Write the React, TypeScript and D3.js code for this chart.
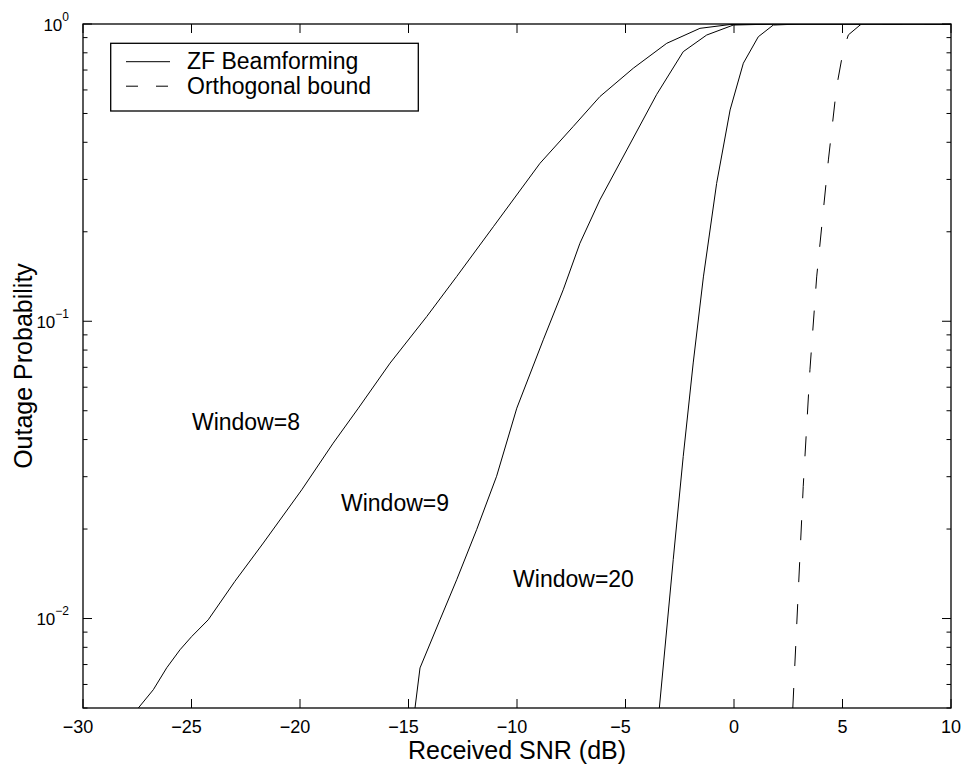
import React from "react";
import * as d3 from "d3";

// ---- data ----
const xTicks = [-30, -25, -20, -15, -10, -5, 0, 5, 10];
const yDecades = [0, -1, -2];

const w8X = [-27.45, -26.76, -26.14, -25.53, -24.99, -24.23, -23.0, -21.69, -19.92, -18.47, -17.31, -15.85, -14.16, -12.78, -11.09, -8.94, -7.41, -6.18, -4.64, -3.1, -1.57, -0.18, 2, 10];
const w8P = [0.005, 0.00576, 0.00683, 0.00785, 0.0087, 0.0099, 0.01334, 0.01795, 0.0271, 0.0389, 0.051, 0.0723, 0.1037, 0.1414, 0.208, 0.34, 0.452, 0.57, 0.71, 0.861, 0.967, 0.996, 1, 1];

const w9X = [-14.7, -14.47, -13.55, -12.78, -11.86, -10.94, -10.01, -8.79, -7.87, -7.1, -6.18, -4.94, -3.56, -2.34, -1.26, -0.03, 2, 10];
const w9P = [0.005, 0.00682, 0.0099, 0.0135, 0.0199, 0.0301, 0.051, 0.0866, 0.1276, 0.183, 0.256, 0.377, 0.58, 0.807, 0.918, 0.992, 1, 1];

const w20X = [-3.44, -2.8, -2.34, -1.88, -1.41, -0.8, -0.18, 0.43, 1.12, 1.81, 3.04, 10];
const w20P = [0.005, 0.0158, 0.0351, 0.0724, 0.141, 0.291, 0.514, 0.738, 0.906, 0.992, 1, 1];

const orthoX = [2.71, 3.19, 3.5, 3.81, 4.35, 4.73, 5.04, 5.27, 5.81, 6.5, 10];
const orthoP = [0.005, 0.0278, 0.0687, 0.141, 0.349, 0.615, 0.818, 0.919, 0.992, 1, 1];

const annotations = [
  { text: "Window=8", x: -24.98, y: 0.046 },
  { text: "Window=9", x: -18.11, y: 0.0245 },
  { text: "Window=20", x: -10.18, y: 0.0136 },
];

const legendItems = [
  { label: "ZF Beamforming", dash: "none" },
  { label: "Orthogonal bound", dash: "12 18" },
];

const FONT = "'Liberation Sans', Arial, Helvetica, sans-serif";

export default function App() {
  const W = 964, H = 766;
  const L = 83, R = 951, T = 24, B = 708;
  const x = d3.scaleLinear().domain([-30, 10]).range([L, R]);
  const y = d3.scaleLog().domain([0.005, 1]).range([B, T]);

  const line = d3
    .line<[number, number]>()
    .x((d) => x(d[0]))
    .y((d) => y(d[1]));

  const series = [
    { xs: w8X, ps: w8P, dash: "none" },
    { xs: w9X, ps: w9P, dash: "none" },
    { xs: w20X, ps: w20P, dash: "none" },
    { xs: orthoX, ps: orthoP, dash: "20 22" },
  ];

  const minorTicks: number[] = [];
  for (let e = -3; e <= -1; e++) {
    for (let m = 2; m <= 9; m++) {
      const v = m * Math.pow(10, e);
      if (v >= 0.005 && v < 1) minorTicks.push(v);
    }
  }

  return (
    <svg
      width={W}
      height={H}
      style={{ position: "absolute", left: 0, top: 0, background: "#fff" }}
      fontFamily={FONT}
    >
      <rect x={0} y={0} width={W} height={H} fill="#fff" />
      <defs>
        <clipPath id="plotClip">
          <rect x={L} y={T} width={R - L} height={B - T} />
        </clipPath>
      </defs>

      {/* curves */}
      <g clipPath="url(#plotClip)">
        {series.map((s, i) => (
          <path
            key={i}
            d={line(s.xs.map((v, k) => [v, s.ps[k]] as [number, number])) || ""}
            fill="none"
            stroke="#000"
            strokeWidth={1}
            strokeDasharray={s.dash}
          />
        ))}
      </g>

      {/* x ticks */}
      {xTicks.map((t) => (
        <g key={"x" + t}>
          <line x1={x(t)} x2={x(t)} y1={B} y2={B - 9} stroke="#000" />
          <line x1={x(t)} x2={x(t)} y1={T} y2={T + 9} stroke="#000" />
          <text x={x(t) - (t < 0 ? 5 : 0)} y={733} fontSize={18} textAnchor="middle">
            {t < 0 ? "\u2212" + Math.abs(t) : String(t)}
          </text>
        </g>
      ))}

      {/* y major ticks */}
      {yDecades.map((e) => (
        <g key={"y" + e}>
          <line x1={L} x2={L + 9} y1={y(Math.pow(10, e))} y2={y(Math.pow(10, e))} stroke="#000" />
          <line x1={R} x2={R - 9} y1={y(Math.pow(10, e))} y2={y(Math.pow(10, e))} stroke="#000" />
          <text x={69} y={y(Math.pow(10, e)) + 6.5} fontSize={17} textAnchor="end">
            10
            <tspan dy={-10} fontSize={12}>
              {e === 0 ? "0" : "\u2212" + Math.abs(e)}
            </tspan>
          </text>
        </g>
      ))}
      {minorTicks.map((v) => (
        <g key={"m" + v}>
          <line x1={L} x2={L + 4.5} y1={y(v)} y2={y(v)} stroke="#000" />
          <line x1={R} x2={R - 4.5} y1={y(v)} y2={y(v)} stroke="#000" />
        </g>
      ))}

      {/* frame */}
      <rect x={L} y={T} width={R - L} height={B - T} fill="none" stroke="#000" strokeWidth={1.3} />

      {/* annotations */}
      {annotations.map((a) => (
        <text key={a.text} x={x(a.x)} y={y(a.y) + 8} fontSize={23} textAnchor="start">
          {a.text}
        </text>
      ))}

      {/* legend */}
      <rect x={110.7} y={43.3} width={307.6} height={67.7} fill="#fff" stroke="#000" strokeWidth={1.3} />
      {legendItems.map((it, i) => (
        <g key={it.label}>
          <line
            x1={126}
            x2={170}
            y1={61.7 + i * 24.5}
            y2={61.7 + i * 24.5}
            stroke="#000"
            strokeDasharray={it.dash}
          />
          <text x={187} y={69 + i * 24.5} fontSize={23}>
            {it.label}
          </text>
        </g>
      ))}

      {/* axis labels */}
      <text x={(L + R) / 2} y={759} fontSize={25} textAnchor="middle">
        Received SNR (dB)
      </text>
      <text
        transform={`translate(32, ${(T + B) / 2}) rotate(-90)`}
        fontSize={25}
        textAnchor="middle"
      >
        Outage Probability
      </text>
    </svg>
  );
}
